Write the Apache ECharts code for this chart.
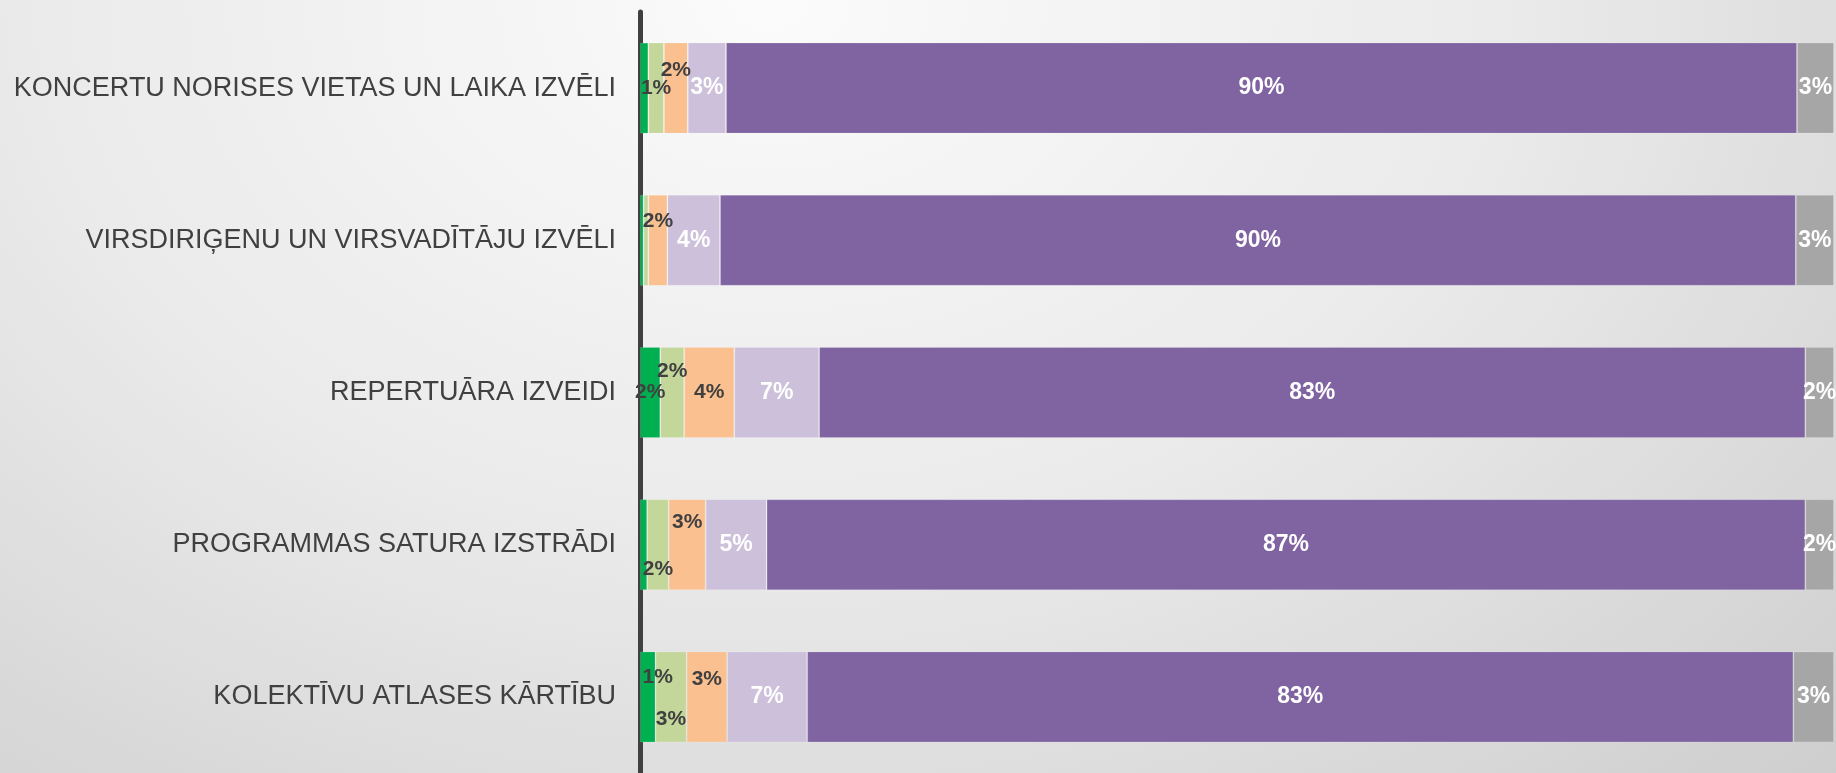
<!DOCTYPE html>
<html>
<head>
<meta charset="utf-8">
<script src="https://cdn.jsdelivr.net/npm/echarts@6/dist/echarts.min.js"></script>
<style>
  html, body { margin: 0; padding: 0; }
  #chart {
    width: 1836px; height: 773px;
    background: radial-gradient(ellipse farthest-corner at 42% 0%, #fbfbfb 0%, #eaeaea 50%, #cecece 100%);
  }
</style>
</head>
<body>
<div id="chart"></div>
<script>
// kategorijas (no augšas uz leju)
const categories = [
    'KONCERTU NORISES VIETAS UN LAIKA IZVĒLI',
    'VIRSDIRIĢENU UN VIRSVADĪTĀJU IZVĒLI',
    'REPERTUĀRA IZVEIDI',
    'PROGRAMMAS SATURA IZSTRĀDI',
    'KOLEKTĪVU ATLASES KĀRTĪBU'
];

// procenti katrai sērijai, tādā pašā secībā kā kategorijas
const seriesNames = ['1', '2', '3', '4', '5', '6'];
const s1 = [0.7, 0.3, 1.7, 0.6, 1.3];
const s2 = [1.3, 0.4, 2.0, 1.8, 2.6];
const s3 = [2.0, 1.6, 4.2, 3.1, 3.4];
const s4 = [3.2, 4.4, 7.1, 5.1, 6.7];
const s5 = [89.7, 90.1, 82.6, 87.0, 82.6];
const s6 = [3.1, 3.2, 2.4, 2.4, 3.4];

const seriesData = [s1, s2, s3, s4, s5, s6];
const colors = ['#00b050', '#c4d79b', '#fac090', '#ccc0da', '#8064a2', '#a6a6a6'];
const darkLabel = [true, true, true, false, false, false];

// etiķešu pārbīdes, lai tās nepārklātos (sērija -> rinda -> [dx, dy])
const nudge = {
    0: {4: [10, -20]},
    1: {2: [0, -21], 3: [0, 25], 4: [0, 22]},
    2: {0: [0, -18], 1: [0, -19], 3: [0, -22], 4: [0, -18]}
};

let series = seriesData.map(function (arr, si) {
    return {
        name: seriesNames[si],
        type: 'bar',
        stack: 'total',
        barWidth: 91,
        itemStyle: { color: colors[si], borderColor: 'rgba(255,255,255,0.15)', borderWidth: 1 },
        label: {
            show: true,
            position: 'inside',
            fontFamily: 'Liberation Sans, Arial, sans-serif',
            fontWeight: 'bold',
            fontSize: darkLabel[si] ? 21 : 23,
            color: darkLabel[si] ? '#404040' : '#ffffff',
            formatter: function (p) {
                return p.value >= 1 ? Math.round(p.value) + '%' : '';
            }
        },
        data: arr.map(function (v, ri) {
            let item = { value: v };
            if (nudge[si] && nudge[si][ri])
                item.label = { offset: nudge[si][ri] };
            return item;
        })
    };
});

let chart = echarts.init(document.getElementById('chart'));
chart.setOption({
    animation: false,
    backgroundColor: 'transparent',
    grid: { left: 640, right: 2, top: 12, bottom: 0 },
    xAxis: {
        type: 'value',
        min: 0,
        max: 100,
        show: false
    },
    yAxis: {
        type: 'category',
        inverse: true,
        data: categories,
        offset: 2,
        axisLine: { show: true, lineStyle: { color: '#404040', width: 5 } },
        axisTick: { show: false },
        axisLabel: {
            margin: 22,
            color: '#404040',
            fontSize: 27,
            fontFamily: 'Liberation Sans, Arial, sans-serif'
        }
    },
    series: series
});
</script>
</body>
</html>
